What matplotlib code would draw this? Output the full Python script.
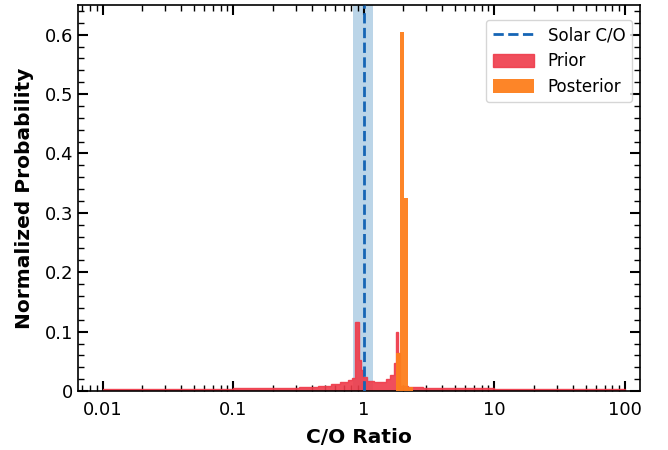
import numpy as np
import matplotlib.pyplot as plt
from matplotlib.ticker import FuncFormatter, AutoMinorLocator, LogLocator

# prior histogram: bin edges in log10(C/O) and normalized heights
prior_log_edges = [-2.0, -1.5, -1.0, -0.75, -0.5, -0.35, -0.25, -0.18, -0.12,
                   -0.09, -0.069, -0.038, -0.023, -0.005, 0.025, 0.08, 0.17,
                   0.2, 0.23, 0.245, 0.262, 0.277, 0.34, 0.45, 0.7, 1.0, 1.5, 2.0]
prior_vals = [0.0035, 0.004, 0.0045, 0.0055, 0.007, 0.009, 0.012, 0.016, 0.019,
              0.022, 0.116, 0.052, 0.035, 0.023, 0.017, 0.016, 0.021,
              0.027, 0.047, 0.100, 0.064, 0.008, 0.007, 0.0055, 0.0045, 0.004, 0.0035]

# posterior histogram
post_log_edges = [0.245, 0.277, 0.309, 0.341, 0.373]
post_vals = [0.064, 0.605, 0.325, 0.007]

solar_co = 1.0
solar_lo, solar_hi = 0.83, 1.17

fig = plt.figure(figsize=(6.68, 4.5), dpi=100)
ax = fig.add_axes([0.117, 0.131, 0.841, 0.858])

ax.axvspan(solar_lo, solar_hi, color="#1f77b4", alpha=0.3, lw=0, zorder=1)
ax.stairs(prior_vals, 10 ** np.array(prior_log_edges), fill=True,
          facecolor="#ef3b4a", edgecolor="#ef3b4a", lw=1.0, alpha=0.9,
          label="Prior", zorder=2)
ax.stairs(post_vals, 10 ** np.array(post_log_edges), fill=True,
          color="#fd7f1c", alpha=0.95, label="Posterior", zorder=3)
ax.axvline(solar_co, color="#1565b5", ls="--", lw=2, label="Solar C/O", zorder=4)

ax.set_xscale("log")
ax.set_xlim(0.0065, 130)
ax.set_ylim(0, 0.65)

ax.xaxis.set_major_formatter(FuncFormatter(lambda v, p: f"{v:g}"))
ax.xaxis.set_minor_locator(LogLocator(base=10, subs=np.arange(2, 10), numticks=20))
ax.yaxis.set_minor_locator(AutoMinorLocator(5))
ax.yaxis.set_major_formatter(FuncFormatter(lambda v, p: "0" if v == 0 else f"{v:.1f}"))

ax.tick_params(which="both", direction="in", top=True, right=True, labelsize=13)
ax.tick_params(which="major", length=7, width=1.5)
ax.tick_params(which="minor", length=4, width=1.0)
ax.tick_params(axis="x", which="major", pad=7)
for s in ax.spines.values():
    s.set_linewidth(1.2)

ax.set_xlabel("C/O Ratio", fontsize=14.5, fontweight="bold", labelpad=7)
ax.set_ylabel("Normalized Probability", fontsize=14.5, fontweight="bold", labelpad=8)

handles, labels = ax.get_legend_handles_labels()
order = [labels.index(n) for n in ["Solar C/O", "Prior", "Posterior"]]
ax.legend([handles[i] for i in order], [labels[i] for i in order],
          loc="upper right", bbox_to_anchor=(0.986, 0.961), borderaxespad=0,
          fontsize=12, labelspacing=0.45, handlelength=2.5, handleheight=0.85)

fig.savefig("out.png", dpi=100)
